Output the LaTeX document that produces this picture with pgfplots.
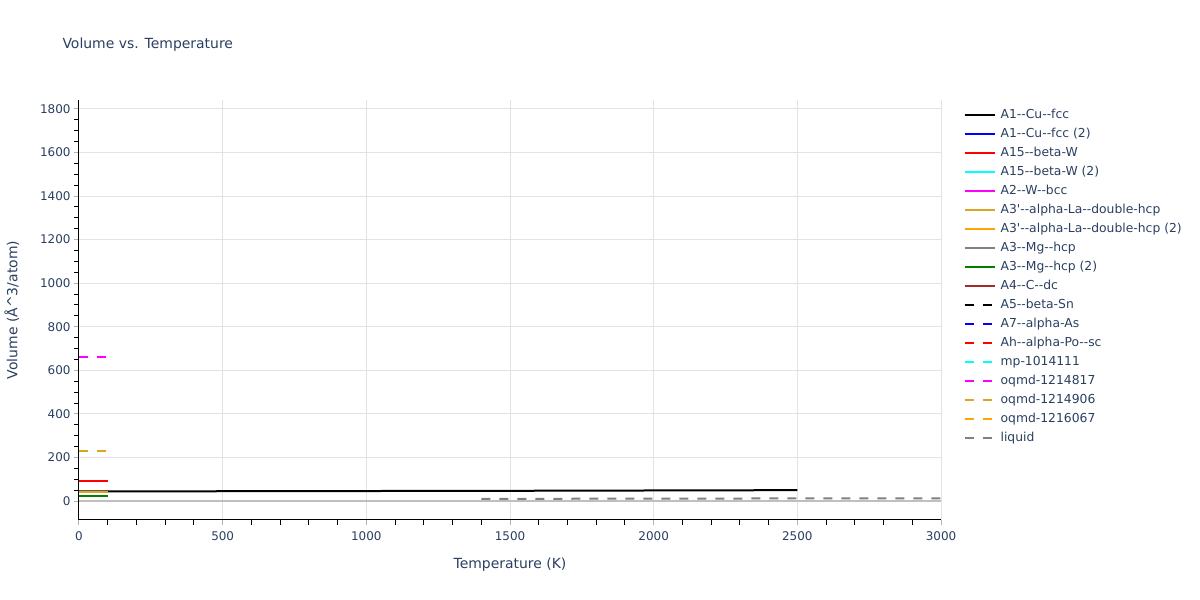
\documentclass[border=0pt]{standalone}
\usepackage{fontspec}
\setmainfont{DejaVu Sans}[Ligatures=TeXOff]
\usepackage{pgfplots}
\pgfplotsset{compat=1.18}
\definecolor{ptext}{RGB}{42,63,95}
\definecolor{pgold}{RGB}{218,165,32}
\definecolor{porange}{RGB}{255,165,0}
\definecolor{pbrown}{RGB}{165,42,42}
\definecolor{pgreen}{RGB}{0,128,0}
\definecolor{pgray}{RGB}{128,128,128}
\definecolor{pblue}{RGB}{0,0,255}
\definecolor{pred}{RGB}{255,0,0}
\definecolor{pcyan}{RGB}{0,255,255}
\definecolor{pmag}{RGB}{255,0,255}

\begin{document}
\begin{tikzpicture}[x=1bp,y=1bp]
\useasboundingbox (-79,-80) rectangle (1121,520);
\begin{axis}[
    at={(0,0)}, anchor=south west,
    width=862bp, height=420bp, scale only axis,
    xmin=0, xmax=3000,
    ymin=-87, ymax=1841,
    xtick={0,500,...,3000},
    ytick={0,200,...,1800},
    minor x tick num=4,
    minor y tick num=3,
    axis x line*=bottom, axis y line*=left,
    axis line style={black, line width=1bp},
    tick align=outside,
    major tick length=5bp, minor tick length=5bp,
    major tick style={gray!60, line width=1bp},
    minor tick style={black, line width=1bp},
    grid=major,
    major grid style={gray!22, line width=1bp},
    /pgf/number format/assume math mode=true,
    /pgf/number format/1000 sep={},
    ticklabel style={font=\fontsize{12}{14}\selectfont, text=ptext},
    xticklabel style={yshift=-3bp},
    xlabel={Temperature (K)},
    ylabel={Volume (Å\^{}3/atom)},
    label style={font=\fontsize{14}{16}\selectfont, text=ptext},
    xlabel style={yshift=-11bp},
    ylabel style={yshift=14bp},
    legend cell align=left,
    legend style={at={(1.026,0.978)}, anchor=north west, draw=none, fill=none,
        font=\fontsize{12.4}{14}\selectfont, text=ptext,
        nodes={text height=9bp, text depth=3bp, inner sep=0pt, inner xsep=5bp},
        row sep=7bp, inner sep=0pt},
    legend image code/.code={\draw[#1] (0bp,0bp) -- (30bp,0bp);},
    clip=false,
]
\draw[gray!50, line width=2bp] (axis cs:0,0) -- (axis cs:3000,0);
% A1--Cu--fcc
\addplot[black, line width=2bp] coordinates {
    (0,44) (500,45) (1000,46) (1500,47) (2000,48.5) (2500,50)
};
\addlegendentry{A1--Cu--fcc}
\addlegendimage{pblue, line width=2bp}
\addlegendentry{A1--Cu--fcc (2)}
% A15--beta-W
\addplot[pred, line width=2bp] coordinates {(0,93) (100,93)};
\addlegendentry{A15--beta-W}
\addlegendimage{pcyan, line width=2bp}
\addlegendentry{A15--beta-W (2)}
\addlegendimage{pmag, line width=2bp}
\addlegendentry{A2--W--bcc}
% A3'--alpha-La--double-hcp
\addplot[pgold, line width=2bp] coordinates {(0,42) (100,42)};
\addlegendentry{A3'--alpha-La--double-hcp}
\addlegendimage{porange, line width=2bp}
\addlegendentry{A3'--alpha-La--double-hcp (2)}
\addlegendimage{pgray, line width=2bp}
\addlegendentry{A3--Mg--hcp}
% A3--Mg--hcp (2)
\addplot[pgreen, line width=2bp] coordinates {(0,21) (100,21)};
\addlegendentry{A3--Mg--hcp (2)}
\addlegendimage{pbrown, line width=2bp}
\addlegendentry{A4--C--dc}
\addlegendimage{black, line width=2bp, dash pattern=on 9bp off 9bp}
\addlegendentry{A5--beta-Sn}
\addlegendimage{pblue, line width=2bp, dash pattern=on 9bp off 9bp}
\addlegendentry{A7--alpha-As}
\addlegendimage{pred, line width=2bp, dash pattern=on 9bp off 9bp}
\addlegendentry{Ah--alpha-Po--sc}
\addlegendimage{pcyan, line width=2bp, dash pattern=on 9bp off 9bp}
\addlegendentry{mp-1014111}
% oqmd-1214817
\addplot[pmag, line width=2bp, dash pattern=on 9bp off 9bp] coordinates {(0,661) (100,661)};
\addlegendentry{oqmd-1214817}
% oqmd-1214906
\addplot[pgold, line width=2bp, dash pattern=on 9bp off 9bp] coordinates {(0,230) (100,230)};
\addlegendentry{oqmd-1214906}
\addlegendimage{porange, line width=2bp, dash pattern=on 9bp off 9bp}
\addlegendentry{oqmd-1216067}
% liquid
\addplot[pgray, line width=2bp, dash pattern=on 9bp off 9bp] coordinates {
    (1400,10) (2000,11) (2500,12) (3000,12.5)
};
\addlegendentry{liquid}
\end{axis}
\node[anchor=west, font=\fontsize{14}{18}\selectfont, text=ptext] at (-20,475) {Volume vs. Temperature};
\end{tikzpicture}
\end{document}
